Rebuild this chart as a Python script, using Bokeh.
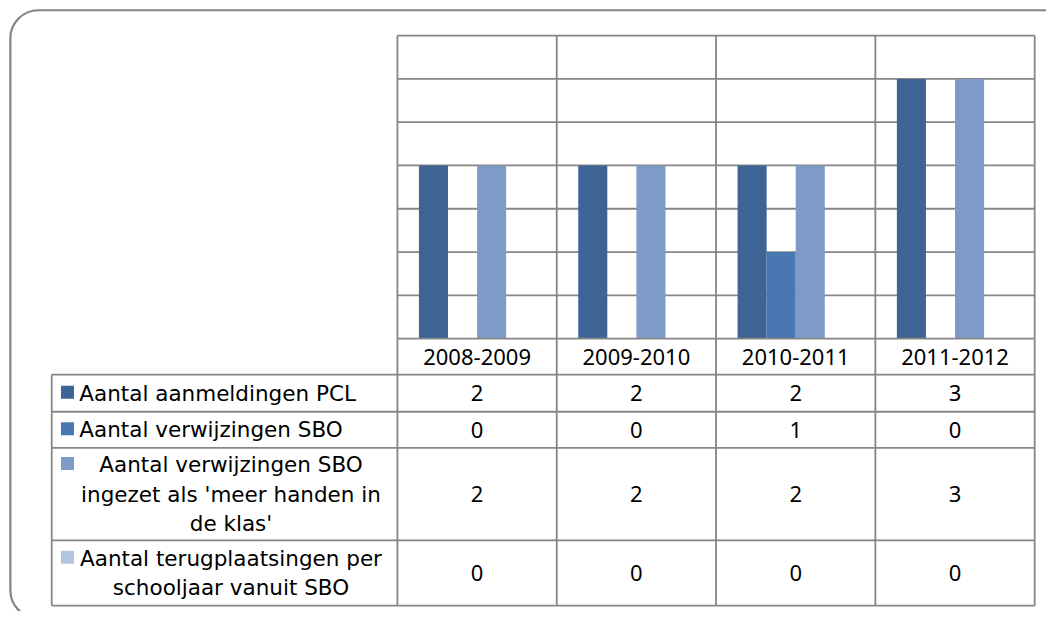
from bokeh.plotting import figure
from bokeh.models import Range1d, BoxAnnotation
from bokeh.core.properties import value
from bokeh.embed import file_html
from bokeh.resources import INLINE

# ---------------- data ----------------
categories = ["2008-2009", "2009-2010", "2010-2011", "2011-2012"]
series_names = [
    "Aantal aanmeldingen PCL",
    "Aantal verwijzingen SBO",
    "Aantal verwijzingen SBO ingezet als 'meer handen in de klas'",
    "Aantal terugplaatsingen per schooljaar vanuit SBO",
]
label_lines = [
    ["Aantal aanmeldingen PCL"],
    ["Aantal verwijzingen SBO"],
    ["Aantal verwijzingen SBO", "ingezet als 'meer handen in", "de klas'"],
    ["Aantal terugplaatsingen per", "schooljaar vanuit SBO"],
]
aanmeldingen_pcl = [2, 2, 2, 3]
verwijzingen_sbo = [0, 0, 1, 0]
meer_handen = [2, 2, 2, 3]
terugplaatsingen = [0, 0, 0, 0]
series_values = [aanmeldingen_pcl, verwijzingen_sbo, meer_handen, terugplaatsingen]
colors = ["#3D6495", "#4877B1", "#7E9BC8", "#B4C3DE"]
y_max = 3.5
y_step = 0.5

# ---------------- layout (reference pixels, 1062 x 627) ----------------
REF_W, REF_H = 1062, 627
W, H = 1046, 611
PL, PR, PT, PB = 403, 1050, 36, 347
n_cat = len(categories)
ux = (PR - PL) / n_cat
uy = (PB - PT) / y_max

def X(px):
    return (px - PL) / ux

def Y(py):
    return (PB - py) / uy

row_edges = [347, 384, 422, 459, 554, 621]
table_left = 52
GRID = "#868686"
LW = 1.8
LABEL_FONT = value("DejaVu Sans")
LABEL_FS = "21.5px"
NUM_FONT = value("Noto Sans")
NUM_FS = "22px"

p = figure(width=W, height=H, output_backend="svg", toolbar_location=None,
           x_range=Range1d(X(0), X(REF_W)), y_range=Range1d(Y(REF_H), Y(0)),
           min_border=0, background_fill_color="white", border_fill_color="white")
p.axis.visible = False
p.grid.visible = False
p.outline_line_color = None

# outer rounded frame
p.add_layout(BoxAnnotation(left=X(10), right=X(1090), top=Y(10), bottom=Y(634),
                           fill_alpha=0, line_color="#858585", line_alpha=1.0,
                           line_width=2.2, border_radius=28))

# horizontal gridlines in plot area
gy = [y_step * k for k in range(1, int(round(y_max / y_step)) + 1)]
p.segment(x0=[0] * len(gy), x1=[n_cat] * len(gy), y0=gy, y1=gy,
          line_color=GRID, line_width=LW)

# bars
bw = 0.1825
for j, vals in enumerate(series_values):
    xs = [i + 0.5 + (j - 1.5) * bw for i in range(n_cat)]
    p.vbar(x=xs, top=vals, bottom=0, width=bw, fill_color=colors[j],
           line_color=None)

# table lines
ty = [Y(r) for r in row_edges]
p.segment(x0=[0], x1=[n_cat], y0=[ty[0]], y1=[ty[0]], line_color=GRID, line_width=LW)
p.segment(x0=[X(table_left)] * (len(ty) - 1), x1=[n_cat] * (len(ty) - 1),
          y0=ty[1:], y1=ty[1:], line_color=GRID, line_width=LW)
p.segment(x0=list(range(n_cat + 1)), x1=list(range(n_cat + 1)),
          y0=[y_max] * (n_cat + 1), y1=[ty[-1]] * (n_cat + 1),
          line_color=GRID, line_width=LW)
p.segment(x0=[X(table_left)], x1=[X(table_left)], y0=[ty[1]], y1=[ty[-1]],
          line_color=GRID, line_width=LW)

# header: category labels
cx = [i + 0.5 for i in range(n_cat)]
p.text(x=cx, y=[(ty[0] + ty[1]) / 2] * n_cat, text=categories, text_align="center",
       text_baseline="middle", text_font=NUM_FONT, text_font_size=NUM_FS,
       text_color="black")

# values
for j, vals in enumerate(series_values):
    yc = (ty[j + 1] + ty[j + 2]) / 2
    p.text(x=cx, y=[yc] * n_cat, text=[str(v) for v in vals], text_align="center",
           text_baseline="middle", text_font=NUM_FONT, text_font_size=NUM_FS,
           text_color="black")

# row labels with legend keys
line_gap = 30.5
key_x = X(68)
for j, lines in enumerate(label_lines):
    top_px, bot_px = row_edges[j + 1], row_edges[j + 2]
    mid = (top_px + bot_px) / 2
    n = len(lines)
    ys_px = [mid + (k - (n - 1) / 2) * line_gap for k in range(n)]
    if n == 1:
        p.text(x=[X(80)], y=[Y(ys_px[0])], text=lines, text_align="left",
               text_baseline="middle", text_font=LABEL_FONT, text_font_size=LABEL_FS,
               text_color="black")
    else:
        p.text(x=[X(234)] * n, y=[Y(v) for v in ys_px], text=lines, text_align="center",
               text_baseline="middle", text_font=LABEL_FONT, text_font_size=LABEL_FS,
               text_color="black")
    p.rect(x=[key_x], y=[Y(ys_px[0] - 1)], width=13, height=13,
           width_units="screen", height_units="screen",
           fill_color=colors[j], line_color=None)

open("out.html", "w").write(file_html(p, INLINE))
